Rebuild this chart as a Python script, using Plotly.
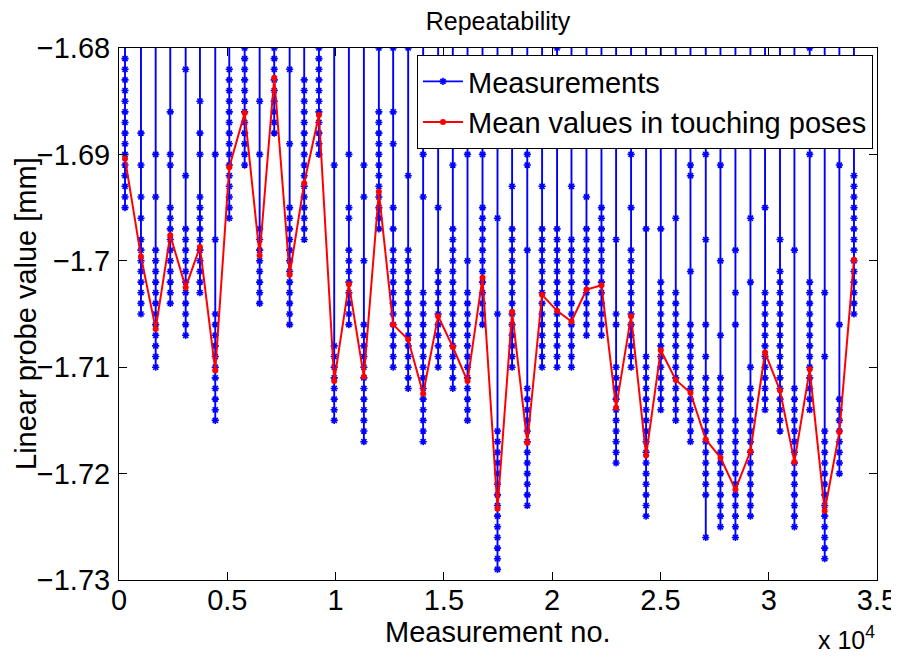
import plotly.graph_objects as go

# ---- data ----
pose_x = [277, 1015, 1693, 2367, 3078, 3738, 4445, 5092, 5802, 6494,
          7168, 7879, 8552, 9231, 9937, 10615, 11307, 11999, 12659, 13352,
          14044, 14736, 15414, 16092, 16785, 17477, 18151, 18852, 19536, 20228,
          20893, 21585, 22277, 22953, 23645, 24338, 25016, 25708, 26387, 27093,
          27771, 28463, 29156, 29830, 30522, 31187, 31893, 32585, 33263, 33936]

mean_values = [-1.6904, -1.6996, -1.7064, -1.6976, -1.7025, -1.6987, -1.7103, -1.6912, -1.6861, -1.6995,
               -1.6828, -1.7013, -1.6927, -1.6863, -1.7113, -1.7022, -1.7109, -1.6935, -1.7060, -1.7074,
               -1.7125, -1.7052, -1.7081, -1.7113, -1.7016, -1.7233, -1.7048, -1.7171, -1.7032, -1.7047,
               -1.7057, -1.7027, -1.7023, -1.7138, -1.7052, -1.7183, -1.7084, -1.7112, -1.7124, -1.7168,
               -1.7185, -1.7215, -1.7179, -1.7086, -1.7122, -1.7189, -1.7102, -1.7235, -1.7161, -1.6999]

# densely sampled band of readings in each touching pose (top / bottom level, mm)
dense_top = [-1.681, -1.698, -1.699, -1.695, -1.697, -1.694, -1.705, -1.682, -1.680, -1.697,
             -1.680, -1.695, -1.683, -1.680, -1.708, -1.699, -1.706, -1.686, -1.699, -1.699,
             -1.703, -1.701, -1.697, -1.703, -1.695, -1.716, -1.697, -1.712, -1.697, -1.697,
             -1.698, -1.697, -1.695, -1.710, -1.699, -1.709, -1.702, -1.703, -1.706, -1.711,
             -1.711, -1.715, -1.712, -1.703, -1.701, -1.712, -1.703, -1.716, -1.713, -1.692]
dense_bottom = [-1.695, -1.705, -1.710, -1.704, -1.707, -1.703, -1.715, -1.696, -1.691, -1.704,
                -1.688, -1.706, -1.698, -1.690, -1.715, -1.706, -1.717, -1.697, -1.710, -1.712,
                -1.717, -1.710, -1.712, -1.715, -1.706, -1.729, -1.710, -1.723, -1.710, -1.710,
                -1.710, -1.707, -1.707, -1.719, -1.710, -1.724, -1.714, -1.715, -1.717, -1.722,
                -1.725, -1.726, -1.724, -1.714, -1.716, -1.725, -1.714, -1.728, -1.720, -1.705]
# isolated readings outside the dense band
sparse_values = [
    [], [-1.688, -1.691, -1.694, -1.696], [-1.690, -1.694], [-1.686, -1.690, -1.691], [-1.682, -1.692],
    [-1.685, -1.688, -1.690], [-1.690, -1.698], [], [], [-1.685, -1.690],
    [], [-1.682, -1.689], [], [], [-1.691],
    [-1.690, -1.695, -1.696], [-1.691, -1.694, -1.700], [-1.680], [-1.680, -1.686, -1.689, -1.695, -1.697], [-1.680, -1.692],
    [-1.686, -1.690, -1.694], [-1.689, -1.695], [-1.691], [-1.690, -1.700], [-1.690],
    [-1.696, -1.705], [-1.688, -1.693], [-1.690, -1.691, -1.699], [-1.693], [-1.680],
    [-1.693], [-1.694], [], [-1.688, -1.698, -1.705, -1.706], [-1.690, -1.695],
    [-1.697], [-1.697], [-1.688, -1.696], [-1.691, -1.692, -1.701], [-1.688, -1.690, -1.698, -1.706, -1.709, -1.726],
    [-1.691, -1.700, -1.707], [-1.699, -1.703, -1.706], [-1.696, -1.702, -1.710], [-1.695], [-1.698],
    [-1.699], [-1.680, -1.690, -1.702], [-1.703, -1.709], [-1.691, -1.706], [],
]
free_value = -1.66  # probe reading when not touching (off the shown range)

x_ticks = [0, 5000, 10000, 15000, 20000, 25000, 30000, 35000]
x_ticktext = ["0", "0.5", "1", "1.5", "2", "2.5", "3", "3.5"]
y_ticks = [-1.73, -1.72, -1.71, -1.70, -1.69, -1.68]
y_ticktext = ["\u22121.73", "\u22121.72", "\u22121.71", "\u22121.7", "\u22121.69", "\u22121.68"]

# ---- build measurement trace ----
mx, my = [], []
for px, top, bot, sp in zip(pose_x, dense_top, dense_bottom, sparse_values):
    n_top = round(top * -1000)
    n_bot = round(bot * -1000)
    levels = set(-k / 1000 for k in range(n_top, n_bot + 1))
    levels.update(sp)
    levels = sorted(levels, reverse=True)
    ys = [free_value] + levels + [free_value]
    mx += [px] * len(ys)
    my += ys

FONT = "Liberation Sans, Arial, Helvetica, sans-serif"
FS = 29
W, H = 891, 648  # page body has an 8px margin

fig = go.Figure()
fig.add_trace(go.Scatter(
    x=mx, y=my, mode="lines+markers", name="Measurements",
    line=dict(color="#0000ff", width=1.9),
    marker=dict(symbol="asterisk-open", size=6, color="#0000ff",
                line=dict(color="#0000ff", width=1.6)),
))
fig.add_trace(go.Scatter(
    x=pose_x, y=mean_values, mode="lines+markers", name="Mean values in touching poses",
    line=dict(color="#ff0000", width=2),
    marker=dict(symbol="circle", size=6, color="#ff0000"),
))

axis_common = dict(
    showline=True, linecolor="black", linewidth=1, mirror="allticks",
    ticks="inside", ticklen=8, tickcolor="black", tickwidth=1,
    showgrid=False, zeroline=False, automargin=False,
    tickfont=dict(family=FONT, size=FS, color="black"),
)

fig.update_layout(
    template="none",
    width=W, height=H,
    margin=dict(l=111, r=22, t=40, b=76, pad=0),
    paper_bgcolor="white", plot_bgcolor="white",
    font=dict(family=FONT, color="black"),
    title=dict(text="Repeatability", x=0.5, xref="paper", xanchor="center",
               y=1 - 13 / H, yref="container", yanchor="middle",
               font=dict(family=FONT, size=25, color="black")),
    xaxis=dict(range=[0, 35000], tickvals=x_ticks, ticktext=x_ticktext,
               ticklabelstandoff=-6, **axis_common),
    yaxis=dict(range=[-1.73, -1.68], tickvals=y_ticks, ticktext=y_ticktext,
               ticklabelstandoff=2, **axis_common),
    showlegend=True,
    legend=dict(x=0.9947, y=0.9868, xanchor="right", yanchor="top",
                bgcolor="white", bordercolor="black", borderwidth=1,
                font=dict(family=FONT, size=FS, color="black"),
                tracegroupgap=0, itemwidth=40),
    annotations=[
        dict(text="Measurement no.", xref="paper", yref="paper", x=0.5, y=0,
             xanchor="center", yanchor="middle", yshift=-52, showarrow=False,
             font=dict(family=FONT, size=FS, color="black")),
        dict(text="Linear probe value [mm]", xref="paper", yref="paper", x=0, y=0.5,
             xanchor="center", yanchor="middle", xshift=-93, textangle=-90, showarrow=False,
             font=dict(family=FONT, size=FS, color="black")),
        dict(text="x 10<sup>4</sup>", xref="paper", yref="paper", x=1, y=0,
             xanchor="right", yanchor="middle", yshift=-58, showarrow=False,
             font=dict(family=FONT, size=25, color="black")),
    ],
)

fig.write_html("out.html")
